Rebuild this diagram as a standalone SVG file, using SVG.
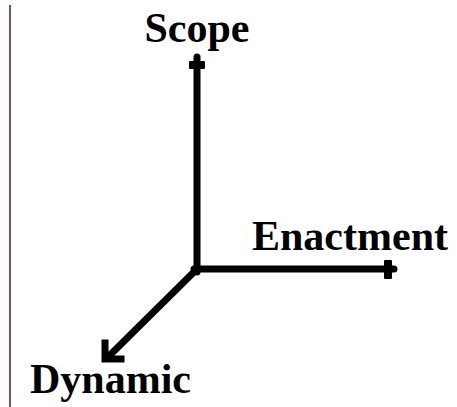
<svg xmlns="http://www.w3.org/2000/svg" width="457" height="407" viewBox="0 0 457 407">
<style>
.lbl{font-family:"Liberation Serif","Times New Roman",serif;font-weight:bold;font-size:42px;fill:#000}
.ax{stroke:#000;stroke-width:7;fill:none}
.hd{fill:#000;stroke:none}
</style>
<rect width="457" height="407" fill="#fff"/>
<line x1="10" y1="5" x2="10" y2="407" stroke="#7a4a8a" stroke-width="2"/>
<g id="connectors">
<line class="ax" x1="197" y1="272" x2="197" y2="57" stroke-linecap="round"/>
<rect class="hd" x="189" y="61" width="16" height="8" rx="1"/>
<line class="ax" x1="194" y1="269" x2="394" y2="269" stroke-linecap="round"/>
<rect class="hd" x="384" y="260" width="8" height="19" rx="1"/>
<path class="ax" stroke-width="6" d="M199,267 L108,357"/>
<path class="ax" stroke-width="6" stroke-linecap="square" d="M105,343 L105,359 L121,359"/>
</g>
<g id="scope"><text class="lbl" x="197" y="42" text-anchor="middle">Scope</text></g>
<g id="enactment"><text class="lbl" x="252" y="250">Enactment</text></g>
<g id="dynamic"><text class="lbl" x="30" y="393">Dynamic</text></g>
</svg>
